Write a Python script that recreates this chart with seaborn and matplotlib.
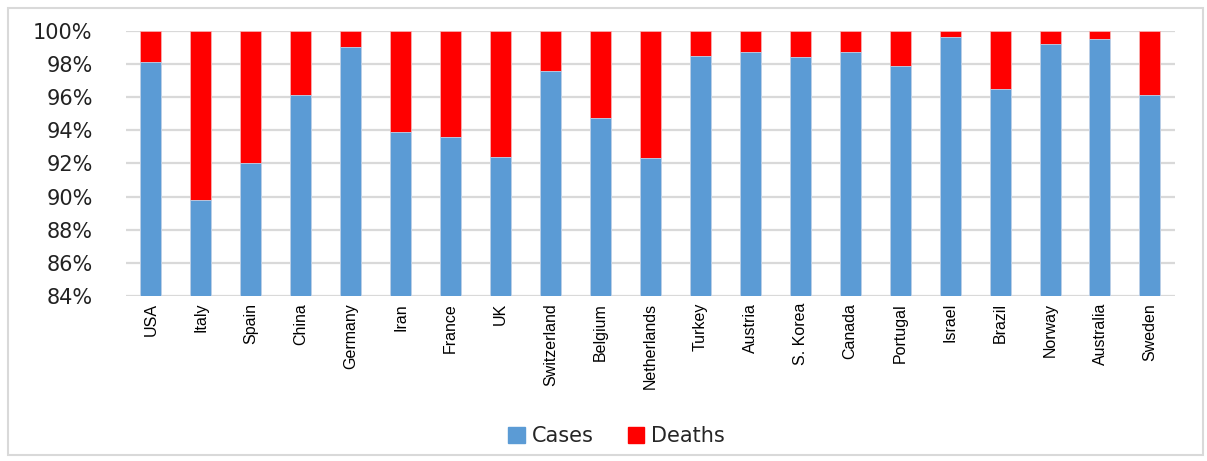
import pandas as pd
import matplotlib.pyplot as plt
import seaborn as sns
from matplotlib.patches import Rectangle, Patch
from matplotlib.ticker import FuncFormatter

# Share of cases vs deaths per country (percent)
countries = ["USA", "Italy", "Spain", "China", "Germany", "Iran", "France", "UK",
             "Switzerland", "Belgium", "Netherlands", "Turkey", "Austria", "S. Korea",
             "Canada", "Portugal", "Israel", "Brazil", "Norway", "Australia", "Sweden"]
cases_pct = [98.1, 89.8, 92.0, 96.1, 99.0, 93.9, 93.6, 92.4, 97.6, 94.75, 92.3,
             98.45, 98.75, 98.4, 98.75, 97.9, 99.6, 96.5, 99.2, 99.5, 96.1]
deaths_pct = [100 - c for c in cases_pct]

df = pd.DataFrame({"country": countries, "cases": cases_pct, "deaths": deaths_pct})
df["total"] = df["cases"] + df["deaths"]

blue = "#5B9BD5"
red = "#FF0000"

sns.set_style("white")
plt.rcParams['font.family'] = ['DejaVu Sans']

fig = plt.figure(figsize=(12.07, 4.61), dpi=100)
ax = fig.add_axes([0.1044, 0.358, 0.869, 0.5752])

# stacked: full bar in red, cases drawn on top in blue
sns.barplot(data=df, x="country", y="total", color=red, width=0.42, saturation=1,
            edgecolor="#f7b0b0", linewidth=0.6, ax=ax, zorder=2)
sns.barplot(data=df, x="country", y="cases", color=blue, width=0.42, saturation=1,
            edgecolor="#bdd7ee", linewidth=0.6, ax=ax, zorder=3)

ax.set_ylim(84, 100)
ax.set_yticks(range(84, 101, 2))
ax.yaxis.set_major_formatter(FuncFormatter(lambda v, p: f"{int(v)}%"))
ax.set_xlim(-0.5, len(countries) - 0.5)
ax.grid(axis="y", color="#d9d9d9", linewidth=1.6, zorder=0)
ax.set_axisbelow(True)
for s in ax.spines.values():
    s.set_visible(False)
ax.tick_params(axis="both", length=0)
ax.tick_params(axis="y", labelsize=15, pad=24, colors="#222222")
ax.tick_params(axis="x", pad=5)
for lbl in ax.get_xticklabels():
    lbl.set_rotation(90)
    lbl.set_family(['Liberation Sans', 'DejaVu Sans'])
    lbl.set_fontsize(11.5)
    lbl.set_color("#000000")
ax.set_xlabel("")
ax.set_ylabel("")

# chart frame
fig.patches.append(Rectangle((0.007, 0.013), 0.99, 0.97, transform=fig.transFigure,
                             fill=False, edgecolor="#d9d9d9", linewidth=1.5))

handles = [Patch(color=blue, label="Cases"), Patch(color=red, label="Deaths")]
fig.legend(handles=handles, loc="center", bbox_to_anchor=(0.511, 0.054), ncol=2,
           frameon=False, fontsize=15, handlelength=0.8, handleheight=0.8,
           handletextpad=0.35, columnspacing=1.6)

fig.savefig("out.png", dpi=100)
